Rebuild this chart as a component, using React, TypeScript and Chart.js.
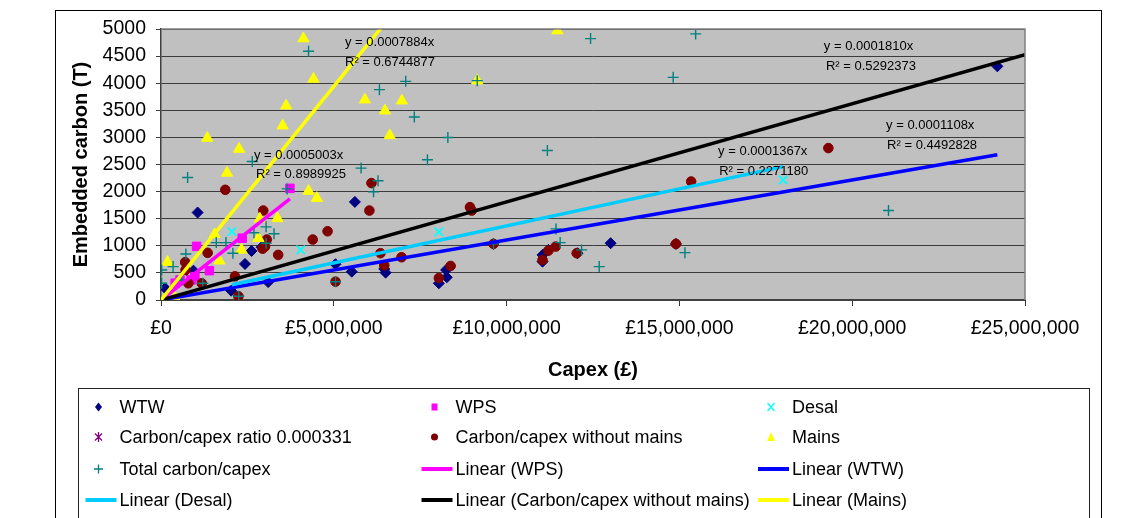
import React, { useEffect, useRef } from 'react';
import { Chart, registerables } from 'chart.js';

Chart.register(...registerables);

type P = [number, number];

// Capex (£), embedded carbon (T)
const wtwPoints: P[] = [
  [120000, 216], [740000, 554], [940000, 541], [1060000, 1614], [2030000, 172], [2430000, 665],
  [2620000, 905], [2910000, 974], [3100000, 330], [5050000, 660], [5520000, 523], [5610000, 1810],
  [6460000, 573], [6500000, 505], [8040000, 308], [8250000, 554], [8270000, 419], [9620000, 1035],
  [11040000, 832], [11040000, 708], [11210000, 924], [12050000, 863], [13010000, 1048],
  [14900000, 1035], [24200000, 4311],
];
const wpsPoints: P[] = [
  [410000, 310], [550000, 370], [870000, 370], [980000, 430], [1030000, 990], [1400000, 541],
  [2350000, 1140], [3730000, 2060],
];
const desalPoints: P[] = [[2050000, 1262], [4040000, 924], [8040000, 1256], [18000000, 2218]];
const ratioPoints: P[] = [];
const noMainsPoints: P[] = [
  [700000, 697], [710000, 554], [790000, 308], [1180000, 308], [1350000, 870], [1860000, 2033],
  [2140000, 437], [2240000, 68], [2940000, 946], [2960000, 1650], [3010000, 985], [3060000, 1115],
  [3390000, 832], [4390000, 1115], [4820000, 1268], [5050000, 338], [6030000, 1650], [6090000, 2157],
  [6350000, 863], [6460000, 640], [6960000, 789], [8040000, 405], [8380000, 628], [8940000, 1713],
  [8990000, 1650], [9620000, 1035], [11040000, 739], [11210000, 911], [11420000, 985],
  [12030000, 863], [14900000, 1035], [15340000, 2186], [19310000, 2803],
];
const mainsPoints: P[] = [
  [150000, 20], [400000, 40], [190000, 700], [1340000, 2988], [1550000, 1210], [1690000, 725],
  [1910000, 2345], [2260000, 2785], [2330000, 924], [2820000, 1140], [2860000, 1497], [3370000, 1505],
  [3520000, 3216], [3620000, 3585], [4120000, 4823], [4270000, 2010], [4410000, 4078], [4510000, 1879],
  [5900000, 3696], [6480000, 3493], [6620000, 3036], [6970000, 3677], [9150000, 4047], [11470000, 4971],
];
const totalPoints: P[] = [
  [20000, 308], [20000, 554], [350000, 616], [600000, 370], [720000, 848], [770000, 2260],
  [1210000, 308], [1600000, 1059], [1880000, 1059], [2080000, 863], [2250000, 68], [2640000, 2556],
  [2690000, 1240], [3040000, 1350], [3040000, 1047], [3270000, 1223], [3650000, 2050], [4270000, 4589],
  [5050000, 338], [5790000, 2434], [6150000, 1995], [6280000, 2200], [6320000, 3881], [7080000, 4034],
  [7330000, 3376], [7710000, 2587], [8300000, 2999], [9150000, 4047], [9620000, 1035], [11180000, 2759],
  [11430000, 1312], [11550000, 1059], [12170000, 924], [12430000, 4823], [12680000, 616],
  [14820000, 4108], [15160000, 874], [15470000, 4910], [21050000, 1650],
];

// Linear trend lines (through origin), end points
const trendWps: P[] = [[0, 0], [3730000, 1866]];
const trendWtw: P[] = [[0, 0], [24200000, 2681]];
const trendDesal: P[] = [[2050000, 280], [18000000, 2461]];
const trendNoMains: P[] = [[0, 0], [25000000, 4525]];
const trendMains: P[] = [[0, 0], [11470000, 9043]];

// Trend equation labels (anchored in data units)
const equationLabels: { text: string; x: number; y: number }[] = [
  { text: 'y = 0.0007884x', x: 5324000, y: 4745 },
  { text: 'R² = 0.6744877', x: 5324000, y: 4386 },
  { text: 'y = 0.0005003x', x: 2690000, y: 2662 },
  { text: 'R² = 0.8989925', x: 2750000, y: 2311 },
  { text: 'y = 0.0001810x', x: 19180000, y: 4682 },
  { text: 'R² = 0.5292373', x: 19240000, y: 4312 },
  { text: 'y = 0.0001108x', x: 20980000, y: 3216 },
  { text: 'R² = 0.4492828', x: 21010000, y: 2847 },
  { text: 'y = 0.0001367x', x: 16120000, y: 2736 },
  { text: 'R² = 0.2271180', x: 16150000, y: 2372 },
];

const FONT = '"Liberation Sans", Arial, Helvetica, sans-serif';

const toXY = (arr: P[]) => arr.map(([x, y]) => ({ x, y }));

const pointDs = (label: string, pts: P[], style: string, color: string, radius: number, order: number, bw = 1) => ({
  label,
  data: toXY(pts),
  pointStyle: style,
  pointRadius: radius,
  pointHoverRadius: radius,
  backgroundColor: color,
  borderColor: color,
  pointBorderWidth: bw,
  showLine: false,
  order,
});

const lineDs = (label: string, pts: P[], color: string, order: number) => ({
  label,
  data: toXY(pts),
  showLine: true,
  borderColor: color,
  backgroundColor: color,
  borderWidth: 3.5,
  pointRadius: 0,
  pointHoverRadius: 0,
  order,
});

function drawLegendMarker(ctx: CanvasRenderingContext2D, style: string, x: number, y: number, color: string) {
  ctx.save();
  ctx.fillStyle = color;
  ctx.strokeStyle = color;
  ctx.lineWidth = 1.3;
  ctx.beginPath();
  switch (style) {
    case 'rectRot':
      ctx.moveTo(x, y - 4.5); ctx.lineTo(x + 3.5, y); ctx.lineTo(x, y + 4.5); ctx.lineTo(x - 3.5, y);
      ctx.closePath(); ctx.fill(); break;
    case 'rect':
      ctx.fillRect(x - 3, y - 3.5, 6, 7); break;
    case 'crossRot':
      ctx.moveTo(x - 3.5, y - 4); ctx.lineTo(x + 3.5, y + 4); ctx.moveTo(x + 3.5, y - 4); ctx.lineTo(x - 3.5, y + 4);
      ctx.stroke(); break;
    case 'star':
      ctx.moveTo(x, y - 5); ctx.lineTo(x, y + 5);
      ctx.moveTo(x - 3.5, y - 3.5); ctx.lineTo(x + 3.5, y + 3.5);
      ctx.moveTo(x + 3.5, y - 3.5); ctx.lineTo(x - 3.5, y + 3.5);
      ctx.stroke(); break;
    case 'circle':
      ctx.arc(x, y, 3.5, 0, Math.PI * 2); ctx.fill(); break;
    case 'triangle':
      ctx.moveTo(x, y - 5); ctx.lineTo(x + 4, y + 4); ctx.lineTo(x - 4, y + 4); ctx.closePath(); ctx.fill(); break;
    case 'cross':
      ctx.moveTo(x, y - 4.5); ctx.lineTo(x, y + 4.5); ctx.moveTo(x - 4.5, y); ctx.lineTo(x + 4.5, y);
      ctx.stroke(); break;
  }
  ctx.restore();
}

const framePlugin = {
  id: 'frame',
  beforeDraw(chart: any) {
    const { ctx, chartArea: a } = chart;
    ctx.save();
    ctx.fillStyle = '#ffffff';
    ctx.fillRect(0, 0, chart.width, chart.height);
    ctx.fillStyle = '#C0C0C0';
    ctx.fillRect(a.left, a.top, a.right - a.left, a.bottom - a.top);
    ctx.restore();
  },
  afterDatasetsDraw(chart: any) {
    const { ctx } = chart;
    const xs = chart.scales.x;
    const ys = chart.scales.y;
    ctx.save();
    ctx.fillStyle = '#000';
    ctx.font = `13px ${FONT}`;
    ctx.textAlign = 'left';
    ctx.textBaseline = 'middle';
    equationLabels.forEach((l) => {
      ctx.fillText(l.text, xs.getPixelForValue(l.x), ys.getPixelForValue(l.y));
    });
    ctx.restore();
  },
  afterDraw(chart: any) {
    const { ctx, chartArea: a } = chart;
    ctx.save();
    // plot frame
    ctx.strokeStyle = '#808080';
    ctx.lineWidth = 1.5;
    ctx.beginPath();
    ctx.moveTo(a.left, a.top);
    ctx.lineTo(a.right, a.top);
    ctx.lineTo(a.right, a.bottom);
    ctx.stroke();
    // outer chart border
    ctx.strokeStyle = '#000';
    ctx.lineWidth = 1;
    ctx.strokeRect(55.5, 10.5, 1046, 530);
    // legend box
    ctx.strokeStyle = '#222';
    ctx.strokeRect(78.5, 388.5, 1011, 150);
    // legend entries
    const textX = [119.5, 455.5, 792];
    const rowY = [407, 437, 469, 500];
    ctx.font = `18px ${FONT}`;
    ctx.textBaseline = 'middle';
    ctx.textAlign = 'left';
    chart.data.datasets.forEach((ds: any, i: number) => {
      const col = i % 3;
      const row = Math.floor(i / 3);
      const tx = textX[col];
      const ty = rowY[row];
      if (ds.showLine) {
        ctx.save();
        ctx.strokeStyle = ds.borderColor;
        ctx.lineWidth = 4;
        ctx.beginPath();
        ctx.moveTo(tx - 34, ty);
        ctx.lineTo(tx - 3, ty);
        ctx.stroke();
        ctx.restore();
      } else {
        drawLegendMarker(ctx, ds.pointStyle, tx - 21, ty, ds.borderColor);
      }
      ctx.fillStyle = '#000';
      ctx.fillText(ds.label, tx, ty + 1);
    });
    ctx.restore();
  },
};

const fmtPound = (v: number) => '£' + String(Math.round(v)).replace(/\B(?=(\d{3})+(?!\d))/g, ',');

export default function App() {
  const ref = useRef<HTMLCanvasElement>(null);

  useEffect(() => {
    document.body.style.margin = '0';
    const canvas = ref.current!;
    const datasets: any[] = [
      pointDs('WTW', wtwPoints, 'rectRot', '#000080', 5.5, 7),
      pointDs('WPS', wpsPoints, 'rect', '#FF00FF', 6, 6),
      pointDs('Desal', desalPoints, 'crossRot', '#00FFFF', 6, 5, 1.8),
      pointDs('Carbon/capex ratio 0.000331', ratioPoints, 'star', '#800080', 5, 4, 1.5),
      pointDs('Carbon/capex without mains', noMainsPoints, 'circle', '#800000', 4.8, 3),
      pointDs('Mains', mainsPoints, 'triangle', '#FFFF00', 6.5, 2),
      pointDs('Total carbon/capex', totalPoints, 'cross', '#008080', 5.5, 1, 1.4),
      lineDs('Linear (WPS)', trendWps, '#FF00FF', -1),
      lineDs('Linear (WTW)', trendWtw, '#0000FF', -2),
      lineDs('Linear (Desal)', trendDesal, '#00CCFF', -3),
      lineDs('Linear (Carbon/capex without mains)', trendNoMains, '#000000', -4),
      lineDs('Linear (Mains)', trendMains, '#FFFF00', -5),
    ];

    const chart = new Chart(canvas, {
      type: 'scatter',
      data: { datasets },
      options: {
        animation: false,
        responsive: false,
        devicePixelRatio: 1,
        events: [],
        layout: { padding: { left: 0, top: 29, right: 118, bottom: 0 } },
        plugins: {
          legend: { display: false },
          tooltip: { enabled: false },
          title: { display: false },
        },
        scales: {
          x: {
            type: 'linear',
            min: 0,
            max: 25000000,
            afterFit: (s: any) => { s.height = 218; },
            ticks: {
              stepSize: 5000000,
              autoSkip: false,
              maxRotation: 0,
              padding: 11,
              color: '#000',
              font: { family: FONT, size: 19.5 },
              callback: (v: any) => fmtPound(Number(v)),
            },
            grid: {
              drawOnChartArea: false,
              drawTicks: true,
              tickLength: 6,
              color: '#333333',
            },
            border: { color: '#404040', width: 2 },
            title: {
              display: true,
              text: 'Capex (£)',
              color: '#000',
              font: { family: FONT, size: 20, weight: 'bold' },
              padding: { top: 0, bottom: 136 },
            },
          },
          y: {
            type: 'linear',
            min: 0,
            max: 5000,
            afterFit: (s: any) => { s.width = 161; },
            ticks: {
              stepSize: 500,
              autoSkip: false,
              padding: 10,
              color: '#000',
              font: { family: FONT, size: 19.5 },
              callback: (v: any) => String(v),
            },
            grid: {
              drawOnChartArea: true,
              drawTicks: true,
              tickLength: 5,
              color: '#3c3c3c',
              lineWidth: 1,
            },
            border: { color: '#404040', width: 1.5 },
            title: {
              display: true,
              text: 'Embedded carbon (T)',
              color: '#000',
              font: { family: FONT, size: 20, weight: 'bold' },
              padding: { top: 69, bottom: 0 },
            },
          },
        },
      } as any,
      plugins: [framePlugin],
    });
    return () => chart.destroy();
  }, []);

  return (
    <canvas
      ref={ref}
      width={1143}
      height={518}
      style={{ display: 'block', width: 1143, height: 518 }}
    />
  );
}
